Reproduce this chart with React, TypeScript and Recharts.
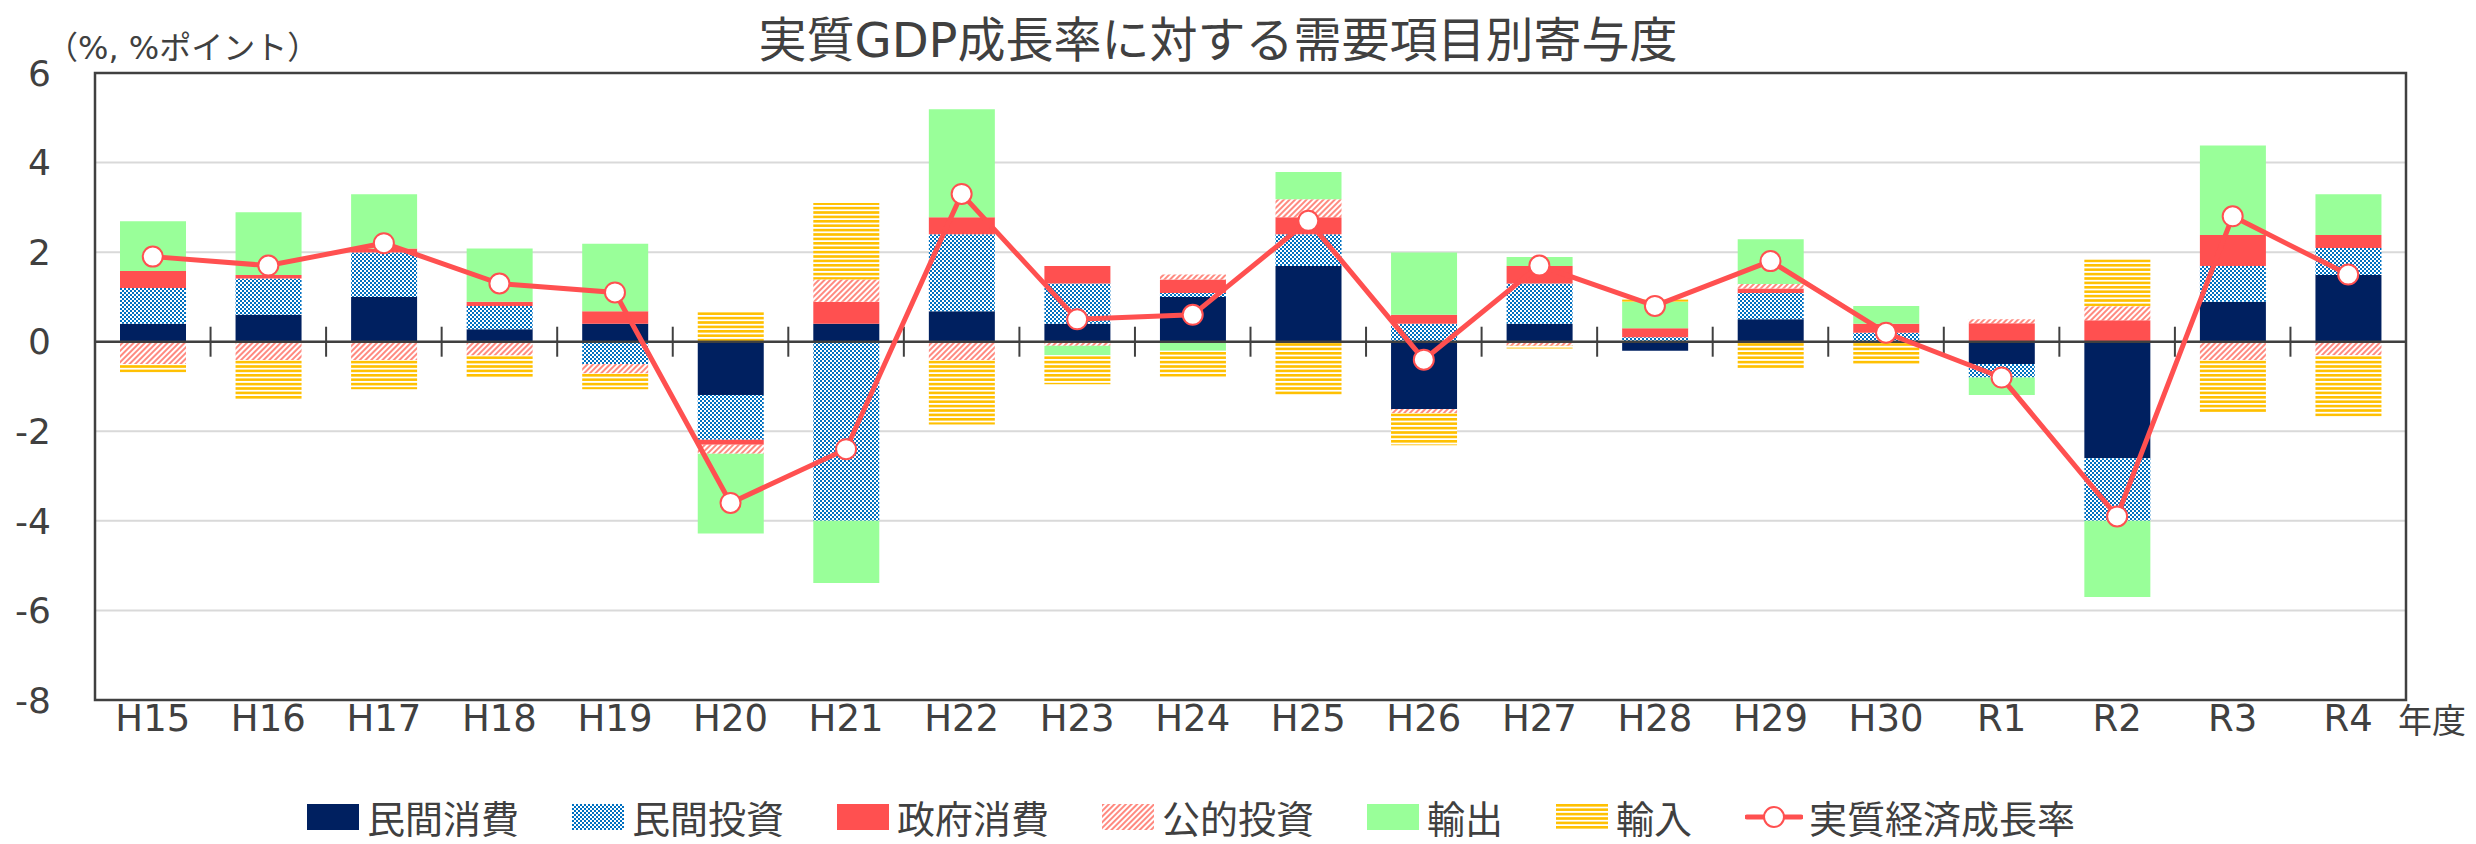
import { ComposedChart, Bar, Line, XAxis, YAxis, CartesianGrid, ReferenceLine, ReferenceArea } from 'recharts';

const categories = ['H15', 'H16', 'H17', 'H18', 'H19', 'H20', 'H21', 'H22', 'H23', 'H24', 'H25', 'H26', 'H27', 'H28', 'H29', 'H30', 'R1', 'R2', 'R3', 'R4'];

const privateConsumption = [0.4, 0.6, 1.0, 0.28, 0.4, -1.19, 0.4, 0.68, 0.4, 1.0, 1.69, -1.5, 0.4, -0.2, 0.5, 0.0, -0.5, -2.6, 0.89, 1.49];
const privateInvestment = [0.8, 0.81, 0.99, 0.52, -0.5, -1.0, -4.0, 1.72, 0.9, 0.09, 0.71, 0.4, 0.9, 0.1, 0.59, 0.2, -0.3, -1.4, 0.8, 0.6];
const governmentConsumption = [0.38, 0.08, 0.09, 0.09, 0.28, -0.11, 0.49, 0.38, 0.39, 0.3, 0.38, 0.2, 0.39, 0.2, 0.1, 0.2, 0.41, 0.48, 0.69, 0.29];
const publicInvestment = [-0.5, -0.41, -0.41, -0.31, -0.21, -0.2, 0.5, -0.41, -0.09, 0.11, 0.4, -0.1, -0.09, 0.0, 0.1, 0.0, 0.09, 0.31, -0.41, -0.3];
const exportsContrib = [1.11, 1.4, 1.21, 1.19, 1.51, -1.78, -1.39, 2.41, -0.21, -0.2, 0.61, 1.39, 0.2, 0.59, 1.0, 0.4, -0.39, -1.7, 2.0, 0.91];
const importsContrib = [-0.19, -0.89, -0.65, -0.49, -0.35, 0.68, 1.71, -1.44, -0.65, -0.58, -1.21, -0.71, -0.06, 0.05, -0.6, -0.5, 0.0, 1.05, -1.17, -1.37];
const realGrowth = [1.9, 1.7, 2.2, 1.3, 1.1, -3.6, -2.4, 3.3, 0.5, 0.6, 2.7, -0.4, 1.7, 0.8, 1.8, 0.2, -0.8, -3.9, 2.8, 1.5];

const yTicks = [-8, -6, -4, -2, 0, 2, 4, 6];

const data = categories.map((name, i) => ({
  name,
  pc: privateConsumption[i],
  pi: privateInvestment[i],
  gc: governmentConsumption[i],
  pub: publicInvestment[i],
  ex: exportsContrib[i],
  im: importsContrib[i],
  gdp: realGrowth[i],
}));

const FONT = '"Noto Sans CJK JP", "Noto Sans", sans-serif';
const NUM_FONT = '"DejaVu Sans", "Noto Sans CJK JP", sans-serif';
const TEXT = '#404040';
const RED = '#FF5050';

const barSeries = [
  { key: 'pc', name: '民間消費', fill: '#002060' },
  { key: 'pi', name: '民間投資', fill: 'url(#pInv)' },
  { key: 'gc', name: '政府消費', fill: RED },
  { key: 'pub', name: '公的投資', fill: 'url(#pPub)' },
  { key: 'ex', name: '輸出', fill: '#99FF99' },
  { key: 'im', name: '輸入', fill: 'url(#pImp)' },
];

// zero line drawn like an Excel category axis, with tick marks crossing it at the category boundaries
function ZeroAxis(props: any) {
  const { x1, x2, y1 } = props;
  const step = (x2 - x1) / categories.length;
  return (
    <g>
      <line x1={x1} y1={y1} x2={x2} y2={y1} stroke={TEXT} strokeWidth={2.5} />
      {categories.slice(1).map((c, i) => (
        <line key={c} x1={x1 + step * (i + 1)} y1={y1 - 15} x2={x1 + step * (i + 1)} y2={y1 + 15} stroke={TEXT} strokeWidth={2} />
      ))}
    </g>
  );
}

function Patterns() {
  return (
    <svg width={0} height={0} style={{ position: 'absolute' }}>
      <defs>
        <pattern id="pInv" width={4} height={4} patternUnits="userSpaceOnUse">
          <rect width={4} height={4} fill="#fff" />
          <rect x={0} y={0} width={2} height={2} fill="#0070C0" />
          <rect x={2} y={2} width={2} height={2} fill="#0070C0" />
        </pattern>
        <pattern id="pPub" width={4} height={4} patternUnits="userSpaceOnUse" patternTransform="rotate(45)">
          <rect width={4} height={4} fill="#fff" />
          <rect width={2} height={4} fill="#FF8A80" />
        </pattern>
        <pattern id="pImp" width={4.4} height={4.4} patternUnits="userSpaceOnUse">
          <rect width={4.4} height={4.4} fill="#fff" />
          <rect width={4.4} height={2.6} fill="#FFC000" />
        </pattern>
      </defs>
    </svg>
  );
}

function LegendRow() {
  return (
    <div style={{ position: 'absolute', left: 307, top: 789, display: 'flex', alignItems: 'center', fontFamily: FONT, fontSize: 38, color: TEXT, lineHeight: 'normal' }}>
      {barSeries.map((s) => (
        <div key={s.key} style={{ display: 'flex', alignItems: 'center', marginRight: 53 }}>
          <svg width={52} height={26} style={{ marginRight: 8 }}>
            <rect width={52} height={26} fill={s.fill} />
          </svg>
          <span>{s.name}</span>
        </div>
      ))}
      <div style={{ display: 'flex', alignItems: 'center' }}>
        <svg width={58} height={26} style={{ marginRight: 6 }}>
          <line x1={2} y1={13} x2={56} y2={13} stroke={RED} strokeWidth={5} strokeLinecap="round" />
          <circle cx={29} cy={13} r={10} fill="#fff" stroke={RED} strokeWidth={2} />
        </svg>
        <span>実質経済成長率</span>
      </div>
    </div>
  );
}

export default function App() {
  return (
    <div style={{ position: 'absolute', left: 0, top: 0, width: 2476, height: 844, background: '#fff', fontFamily: FONT }}>
      <Patterns />
      <div style={{ position: 'absolute', left: 1218, top: 14, transform: 'translateX(-50%)', fontFamily: NUM_FONT, fontSize: 48, color: TEXT, whiteSpace: 'nowrap', lineHeight: '52px' }}>
        実質GDP成長率に対する需要項目別寄与度
      </div>
      <div style={{ position: 'absolute', left: 46, top: 30, fontFamily: NUM_FONT, fontSize: 32, color: TEXT, whiteSpace: 'nowrap', lineHeight: '36px' }}>
        （%, %ポイント）
      </div>
      <div style={{ position: 'absolute', left: 2398, top: 699, fontSize: 34, color: TEXT, whiteSpace: 'nowrap', lineHeight: '40px' }}>
        年度
      </div>
      <ComposedChart
        width={2476}
        height={844}
        data={data}
        stackOffset="sign"
        margin={{ top: 73, right: 70, bottom: 84, left: 0 }}
      >
        <CartesianGrid vertical={false} stroke="#D9D9D9" strokeWidth={2} />
        <XAxis
          dataKey="name"
          interval={0}
          height={60}
          axisLine={false}
          tickLine={false}
          tickSize={0}
          tickMargin={5}
          tick={{ fill: TEXT, fontSize: 37, fontFamily: NUM_FONT }}
        />
        <YAxis
          domain={[-8, 6]}
          ticks={yTicks}
          width={95}
          interval={0}
          axisLine={false}
          tickLine={false}
          tickSize={0}
          tickMargin={44}
          tick={{ fill: TEXT, fontSize: 36, fontFamily: NUM_FONT }}
        />
        <ReferenceArea y1={-8} y2={6} fill="none" stroke={TEXT} strokeWidth={2.5} ifOverflow="visible" />
        {barSeries.map((s) => (
          <Bar key={s.key} dataKey={s.key} name={s.name} stackId="a" fill={s.fill} barSize={66} isAnimationActive={false} />
        ))}
        <ReferenceLine y={0} shape={ZeroAxis} />
        <Line
          dataKey="gdp"
          name="実質経済成長率"
          stroke={RED}
          strokeWidth={5}
          dot={{ r: 10, fill: '#fff', stroke: RED, strokeWidth: 2 }}
          isAnimationActive={false}
        />
      </ComposedChart>
      <LegendRow />
    </div>
  );
}
